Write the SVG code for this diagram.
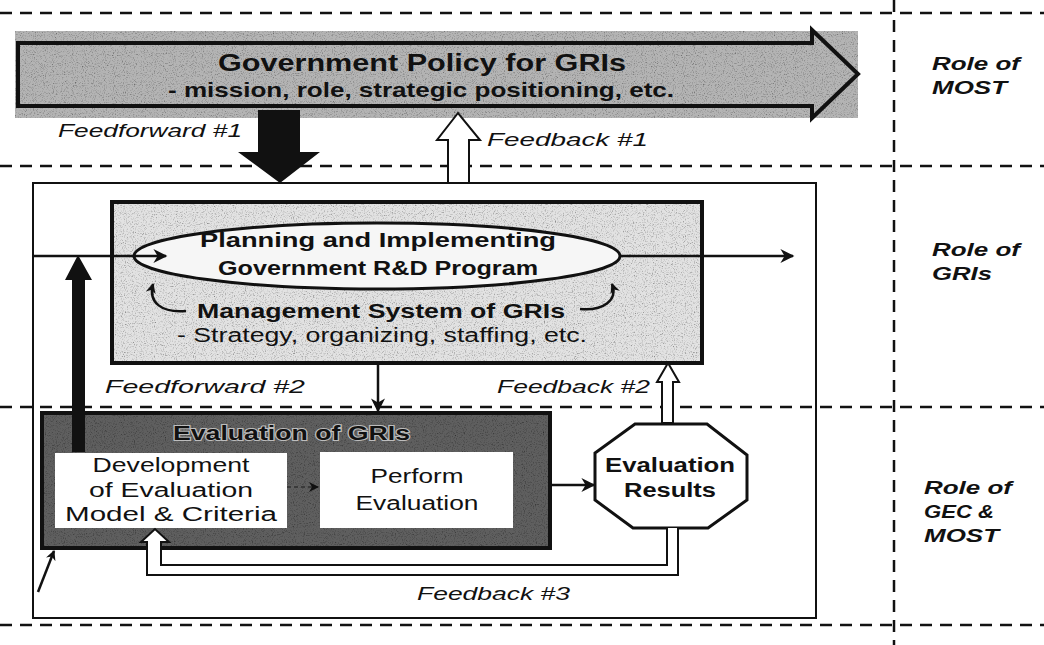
<svg xmlns="http://www.w3.org/2000/svg" width="1044" height="645" viewBox="0 0 1044 645">
  <style>
    .t { font-family: "Liberation Sans", Arial, sans-serif; fill: #111; }
    .b { font-weight: bold; }
    .lbl { font-family: "Liberation Sans", Arial, sans-serif; font-style: italic; font-size: 19px; fill: #111; }
    .role { font-family: "Liberation Sans", Arial, sans-serif; font-style: italic; font-weight: bold; font-size: 18px; fill: #111; }
    .dash { stroke: #111; stroke-width: 2.5; stroke-dasharray: 12 8; fill: none; }
    .line { stroke: #111; stroke-width: 2.5; fill: none; }
    .hollow { fill: #fff; stroke: #111; stroke-width: 2; stroke-linejoin: miter; }
  </style>
  <defs>
    <filter id="grain" x="0" y="0" width="1" height="1">
      <feTurbulence type="fractalNoise" baseFrequency="0.9" numOctaves="2" seed="5" result="t"/>
      <feColorMatrix in="t" type="saturate" values="0" result="g"/>
      <feComponentTransfer in="g" result="c">
        <feFuncR type="linear" slope="2.2" intercept="-0.1"/>
        <feFuncG type="linear" slope="2.2" intercept="-0.1"/>
        <feFuncB type="linear" slope="2.2" intercept="-0.1"/>
        <feFuncA type="linear" slope="0" intercept="1"/>
      </feComponentTransfer>
      <feBlend in="SourceGraphic" in2="c" mode="multiply" result="m"/>
      <feComposite in="m" in2="SourceGraphic" operator="in"/>
    </filter>
    <marker id="ah" viewBox="0 0 10 10" refX="9" refY="5" markerWidth="10" markerHeight="10" markerUnits="userSpaceOnUse" orient="auto">
      <path d="M0,0 L10,5 L0,10 L3,5 Z" fill="#111"/>
    </marker>
    <marker id="ahL" viewBox="0 0 10 10" refX="9" refY="5" markerWidth="16" markerHeight="14" markerUnits="userSpaceOnUse" orient="auto">
      <path d="M0,0 L10,5 L0,10 L3,5 Z" fill="#111"/>
    </marker>
  </defs>

  <rect width="1044" height="645" fill="#fff"/>

  <!-- swim-lane grid -->
  <g id="lanes">
    <line class="dash" x1="0" y1="13" x2="1044" y2="13"/>
    <line class="dash" x1="0" y1="166" x2="1044" y2="166"/>
    <line class="dash" x1="0" y1="407" x2="1044" y2="407"/>
    <line class="dash" x1="0" y1="625" x2="1044" y2="625"/>
    <line class="dash" x1="894" y1="0" x2="894" y2="645" stroke-dasharray="9 5"/>
  </g>

  <!-- policy banner -->
  <g id="policy">
    <rect x="15" y="31" width="843" height="87" fill="#b4b4b4" filter="url(#grain)"/>
    <path d="M18,43 H812 V30 L858,74 L812,118 V106 H18 Z" fill="none" stroke="#111" stroke-width="4" stroke-linejoin="miter"/>
    <text class="t b" x="218" y="71" font-size="23" textLength="408" lengthAdjust="spacingAndGlyphs">Government Policy for GRIs</text>
    <text class="t b" x="168" y="97" font-size="21" textLength="506" lengthAdjust="spacingAndGlyphs">- mission, role, strategic positioning, etc.</text>
  </g>

  <!-- GRI frame -->
  <g id="gri-frame">
    <rect x="33" y="183" width="783" height="435" fill="none" stroke="#111" stroke-width="2"/>
  </g>

  <!-- management system box -->
  <g id="management">
    <rect x="112" y="202" width="590" height="161" fill="#e2e2e2" filter="url(#grain)"/>
    <rect x="112" y="202" width="590" height="161" fill="none" stroke="#111" stroke-width="4"/>
    <ellipse cx="377" cy="256" rx="243" ry="33" fill="#f6f6f6" stroke="#111" stroke-width="3"/>
    <text class="t b" x="200" y="247" font-size="20" textLength="356" lengthAdjust="spacingAndGlyphs">Planning and Implementing</text>
    <text class="t b" x="218" y="275" font-size="20" textLength="320" lengthAdjust="spacingAndGlyphs">Government R&amp;D Program</text>
    <text class="t b" x="197" y="318" font-size="21" textLength="368" lengthAdjust="spacingAndGlyphs">Management System of  GRIs</text>
    <text class="t" x="177" y="342" font-size="20" textLength="410" lengthAdjust="spacingAndGlyphs">- Strategy, organizing, staffing, etc.</text>
  </g>

  <!-- evaluation of GRIs -->
  <g id="evaluation">
    <rect x="42" y="413" width="508" height="135" fill="#5e5e5e" filter="url(#grain)"/>
    <rect x="42" y="413" width="508" height="135" fill="none" stroke="#111" stroke-width="4"/>
    <text class="t b" x="173" y="440" font-size="20" textLength="237" lengthAdjust="spacingAndGlyphs" fill="#1a1a1a" stroke="#bdbdbd" stroke-width="2" paint-order="stroke">Evaluation of GRIs</text>
  </g>

  <g id="development">
    <rect x="55" y="453" width="232" height="75" fill="#fff"/>
    <text class="t" x="171" y="472" font-size="20" text-anchor="middle" textLength="157" lengthAdjust="spacingAndGlyphs">Development</text>
    <text class="t" x="171" y="497" font-size="20" text-anchor="middle" textLength="164" lengthAdjust="spacingAndGlyphs">of Evaluation</text>
    <text class="t" x="171" y="521" font-size="20" text-anchor="middle" textLength="212" lengthAdjust="spacingAndGlyphs">Model &amp; Criteria</text>
  </g>

  <g id="perform">
    <rect x="320" y="452" width="193" height="76" fill="#fff"/>
    <text class="t" x="417" y="483" font-size="20" text-anchor="middle" textLength="93" lengthAdjust="spacingAndGlyphs">Perform</text>
    <text class="t" x="417" y="510" font-size="20" text-anchor="middle" textLength="123" lengthAdjust="spacingAndGlyphs">Evaluation</text>
  </g>

  <g id="results">
    <polygon points="635,424 707,424 747,455 747,500 708,528 633,528 595,500 595,453" fill="#fff" stroke="#111" stroke-width="3"/>
    <text class="t b" x="670" y="472" font-size="20" text-anchor="middle" textLength="130" lengthAdjust="spacingAndGlyphs">Evaluation</text>
    <text class="t b" x="670" y="497" font-size="20" text-anchor="middle" textLength="92" lengthAdjust="spacingAndGlyphs">Results</text>
  </g>

  <!-- connectors -->
  <g id="connectors">
    <!-- feedforward #1: solid block arrow down -->
    <path d="M258,110 H300 V152 H320 L280,183 L238,152 H258 Z" fill="#111"/>
    <!-- feedback #1: hollow block arrow up -->
    <path class="hollow" d="M448,183 V140 H437 L458,113 L480,140 H469 V183 Z"/>
    <!-- main flow through the program -->
    <line class="line" x1="33" y1="256" x2="166" y2="256" marker-end="url(#ahL)"/>
    <line class="line" x1="620" y1="256" x2="793" y2="256" marker-end="url(#ahL)"/>
    <!-- management loops -->
    <path class="line" stroke-width="3" d="M186,311 C162,313 148,303 153,284" marker-end="url(#ah)"/>
    <path class="line" stroke-width="3" d="M580,309 C604,311 618,300 612,284" marker-end="url(#ah)"/>
    <!-- feedforward #2: thick arrow up -->
    <path d="M72,452 V280 H65 L78,255 L92,280 H85 V452 Z" fill="#111"/>
    <!-- program to evaluation -->
    <line class="line" x1="378" y1="363" x2="378" y2="411" marker-end="url(#ahL)"/>
    <!-- feedback #2: hollow arrow up -->
    <path class="hollow" d="M662,423 V382 H657 L668,363 L679,382 H673 V423 Z"/>
    <!-- development to perform -->
    <line x1="287" y1="487" x2="318" y2="487" stroke="#3a3a3a" stroke-width="2" stroke-dasharray="4 3" marker-end="url(#ah)"/>
    <!-- perform to results -->
    <line class="line" x1="550" y1="485" x2="594" y2="485" marker-end="url(#ahL)"/>
    <!-- feedback #3: hollow return path -->
    <path class="hollow" d="M667,528 V565 H161 V542 H169 L155,529 L141,542 H147 V575 H678 V528"/>
    <!-- external input -->
    <line class="line" x1="38" y1="592" x2="54" y2="551" stroke-width="2" marker-end="url(#ah)"/>
  </g>

  <!-- connector labels -->
  <g id="labels">
    <text class="lbl" x="58" y="137" textLength="184" lengthAdjust="spacingAndGlyphs">Feedforward #1</text>
    <text class="lbl" x="487" y="146" textLength="161" lengthAdjust="spacingAndGlyphs">Feedback #1</text>
    <text class="lbl" x="105" y="393" textLength="200" lengthAdjust="spacingAndGlyphs">Feedforward #2</text>
    <text class="lbl" x="497" y="393" textLength="153" lengthAdjust="spacingAndGlyphs">Feedback #2</text>
    <text class="lbl" x="417" y="600" textLength="153" lengthAdjust="spacingAndGlyphs">Feedback #3</text>
  </g>

  <!-- lane roles -->
  <g id="roles">
    <text class="role" x="932" y="70" textLength="88" lengthAdjust="spacingAndGlyphs">Role of</text>
    <text class="role" x="932" y="94" textLength="75" lengthAdjust="spacingAndGlyphs">MOST</text>
    <text class="role" x="932" y="256" textLength="88" lengthAdjust="spacingAndGlyphs">Role of</text>
    <text class="role" x="932" y="280" textLength="60" lengthAdjust="spacingAndGlyphs">GRIs</text>
    <text class="role" x="924" y="494" textLength="88" lengthAdjust="spacingAndGlyphs">Role of</text>
    <text class="role" x="924" y="518" textLength="70" lengthAdjust="spacingAndGlyphs">GEC &amp;</text>
    <text class="role" x="924" y="542" textLength="75" lengthAdjust="spacingAndGlyphs">MOST</text>
  </g>
</svg>
